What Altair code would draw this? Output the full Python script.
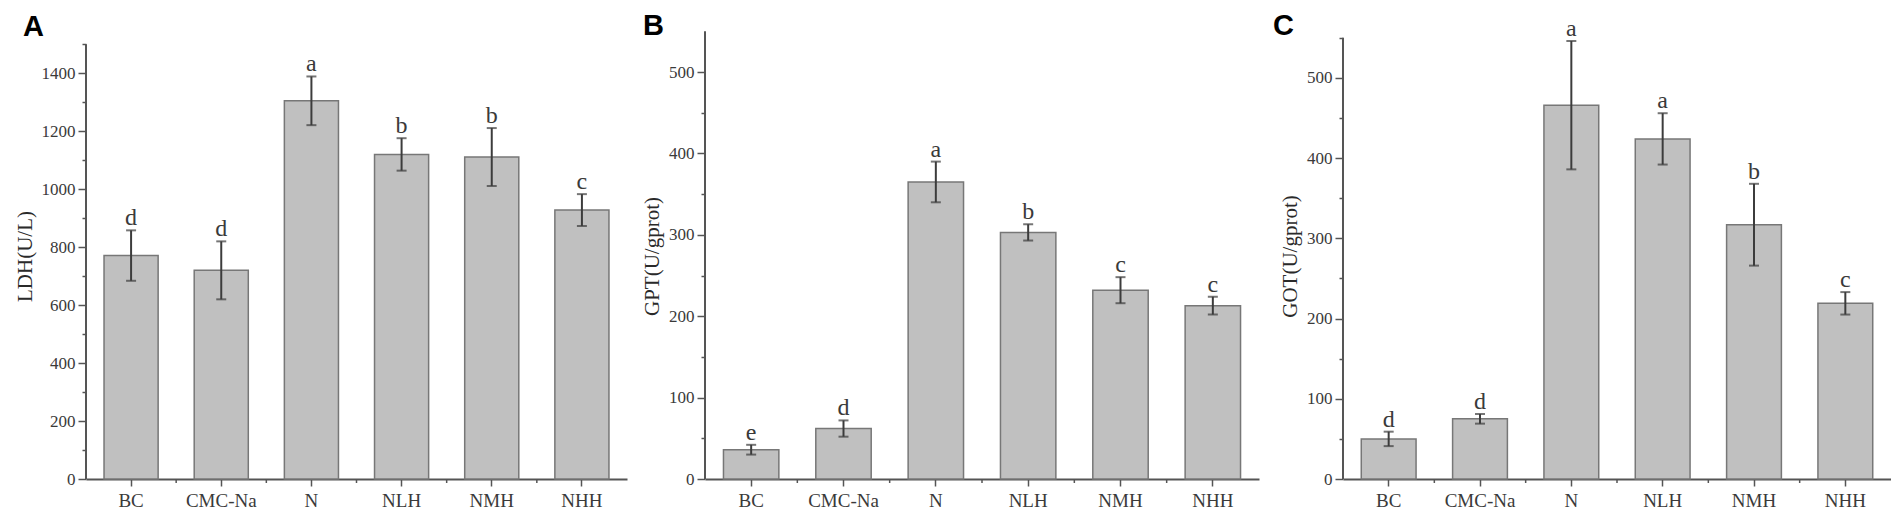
import altair as alt
import pandas as pd

categories = ["BC", "CMC-Na", "N", "NLH", "NMH", "NHH"]

ldh_mean = [771, 720, 1305, 1120, 1111, 928]
ldh_sd = [87, 100, 84, 56, 100, 55]
ldh_letters = ["d", "d", "a", "b", "b", "c"]

gpt_mean = [36, 62, 365, 303, 232, 213]
gpt_sd = [6, 10, 25, 10, 16, 11]
gpt_letters = ["e", "d", "a", "b", "c", "c"]

got_mean = [50, 75, 466, 424, 317, 219]
got_sd = [9, 6, 80, 32, 51, 14]
got_letters = ["d", "d", "a", "a", "b", "c"]

panel_labels = ["A", "B", "C"]

SERIF = "Liberation Serif"
TXT = "#3a3a3a"
AXC = "#555555"
H = 446


def panel(label, mean, sd, letters, ytitle, axis_max, scale_max, major, minor, width,
          label_dx, label_dy):
    df = pd.DataFrame({"group": categories, "mean": mean, "sd": sd, "letter": letters})
    df["lo"] = df["mean"] - df["sd"]
    df["hi"] = df["mean"] + df["sd"]

    xscale = alt.Scale(paddingInner=0.4, paddingOuter=0.2)
    xaxis = alt.Axis(title=None, labelAngle=0, labelFont=SERIF, labelFontSize=19,
                     labelColor=TXT, labelPadding=5, tickSize=7, tickWidth=1.5,
                     tickColor=AXC, domainColor=AXC, domainWidth=2, grid=False)
    yscale = alt.Scale(domain=[0, scale_max], nice=False)
    yaxis = alt.Axis(
        title=ytitle,
        values=list(range(0, axis_max + 1, minor)),
        format="d",
        labelExpr=f"datum.value % {major} === 0 ? datum.label : ''",
        tickSize={"condition": {"test": f"datum.value % {major} === 0", "value": 8}, "value": 4},
        tickWidth=1.5, tickColor=AXC, domain=False, grid=False,
        labelFont=SERIF, labelFontSize=17, labelColor=TXT, labelPadding=3,
        titleFont=SERIF, titleFontSize=21, titleFontWeight="normal", titleColor="#2a2a2a",
        titlePadding=6,
    )

    x = alt.X("group:N", sort=categories, scale=xscale, axis=xaxis)
    base = alt.Chart(df)

    bars = base.mark_bar(color="#c0c0c0", stroke="#777777", strokeWidth=1.5).encode(
        x=x, y=alt.Y("mean:Q", scale=yscale, axis=yaxis))
    err = base.mark_rule(color="#3c3c3c", strokeWidth=2).encode(
        x=x, y=alt.Y("lo:Q", scale=yscale, axis=yaxis), y2="hi:Q")
    cap_hi = base.mark_tick(color="#3c3c3c", size=10, thickness=2).encode(
        x=x, y=alt.Y("hi:Q", scale=yscale, axis=yaxis))
    cap_lo = base.mark_tick(color="#3c3c3c", size=10, thickness=2).encode(
        x=x, y=alt.Y("lo:Q", scale=yscale, axis=yaxis))
    txt = base.mark_text(baseline="alphabetic", dy=-5, font=SERIF, fontSize=24,
                         color=TXT).encode(
        x=x, y=alt.Y("hi:Q", scale=yscale, axis=yaxis), text="letter:N")

    step = width / 6.0
    minor_df = pd.DataFrame({"group": categories[:-1]})
    minor_ticks = alt.Chart(minor_df).mark_rule(
        color=AXC, strokeWidth=1.5, xOffset=0.2 * step).encode(
        x=alt.X("group:N", sort=categories, scale=xscale, axis=xaxis, bandPosition=1),
        y=alt.value(H), y2=alt.value(H + 4))

    # y-axis line from 0 up to the last tick value
    y_line = alt.Chart(pd.DataFrame({"v": [0]})).mark_rule(color=AXC, strokeWidth=2).encode(
        x=alt.value(0), y=alt.datum(0, scale=yscale, axis=yaxis), y2=alt.datum(axis_max))

    panel_label = alt.Chart(pd.DataFrame({"t": [label]})).mark_text(
        font="Liberation Sans", fontSize=29, fontWeight="bold",
        color="black", align="left", baseline="alphabetic").encode(
        x=alt.value(label_dx), y=alt.value(label_dy), text="t:N")

    return alt.layer(bars, err, cap_hi, cap_lo, txt, minor_ticks, y_line,
                     panel_label).properties(width=width, height=H)


pA = panel(panel_labels[0], ldh_mean, ldh_sd, ldh_letters, "LDH(U/L)", 1500, 1539, 200, 100,
           541, -63, 3)
pB = panel(panel_labels[1], gpt_mean, gpt_sd, gpt_letters, "GPT(U/gprot)", 550, 548, 100, 50,
           554, -62, 2)
pC = panel(panel_labels[2], got_mean, got_sd, got_letters, "GOT(U/gprot)", 550, 556, 100, 50,
           548, -70, 2)

chart = alt.hconcat(pA, pB, pC, spacing=14).properties(
    padding={"left": 6, "top": 4, "right": 0, "bottom": 0}
).configure_view(stroke=None)

chart.save("out.html", embed_options={"renderer": "svg", "actions": False})
